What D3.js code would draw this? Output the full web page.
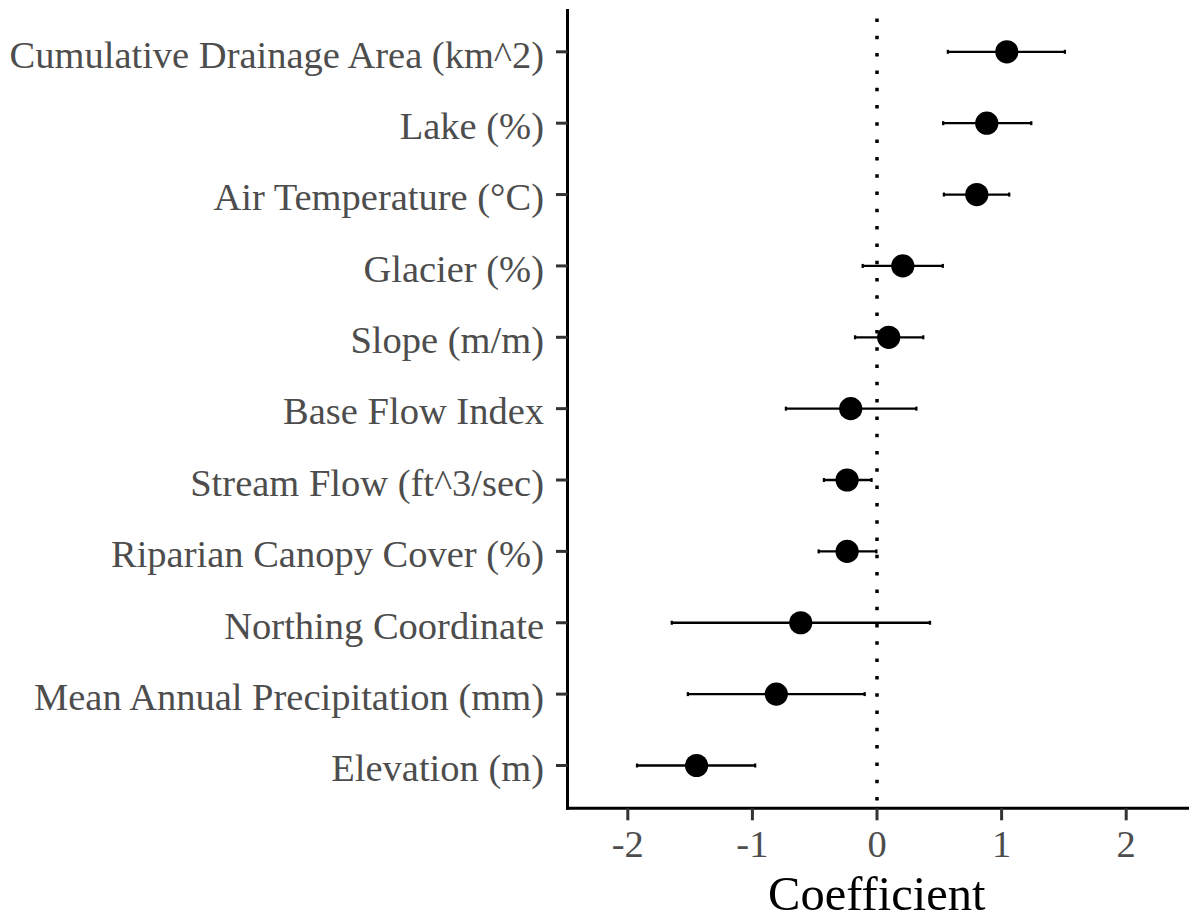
<!DOCTYPE html>
<html>
<head>
<meta charset="utf-8">
<script src="https://cdn.jsdelivr.net/npm/d3@7"></script>
<style>
  html, body { margin: 0; padding: 0; background: #ffffff; }
  svg { display: block; }
</style>
</head>
<body>
<svg id="chart" width="1189" height="920"></svg>
<script>
// Predictor names, top to bottom
const categories = [
  "Cumulative Drainage Area (km^2)",
  "Lake (%)",
  "Air Temperature (°C)",
  "Glacier (%)",
  "Slope (m/m)",
  "Base Flow Index",
  "Stream Flow (ft^3/sec)",
  "Riparian Canopy Cover (%)",
  "Northing Coordinate",
  "Mean Annual Precipitation (mm)",
  "Elevation (m)"
];
// Coefficient estimates and their interval bounds
const estimates = [1.042, 0.881, 0.801, 0.207, 0.094, -0.211, -0.240, -0.240, -0.612, -0.808, -1.448];
const lower     = [0.569, 0.531, 0.537, -0.115, -0.176, -0.731, -0.426, -0.468, -1.647, -1.518, -1.926];
const upper     = [1.508, 1.238, 1.061, 0.528, 0.371, 0.316, -0.044, -0.005, 0.425, -0.099, -0.978];
const xTicks = [-2, -1, 0, 1, 2];
const xTitle = "Coefficient";

const rows = categories.map((c, i) => ({ name: c, est: estimates[i], lo: lower[i], hi: upper[i] }));

const svg = d3.select("#chart");
const panel = { left: 567.5, right: 1189, top: 9, bottom: 808.3 };

const x = d3.scaleLinear().domain([-2.484, 2.504]).range([panel.left, panel.right]);
const y = d3.scalePoint().domain(categories).range([panel.top, panel.bottom]).padding(0.6);

const serif = "'Liberation Serif', 'Times New Roman', serif";

// Reference line at zero
svg.append("line")
  .attr("x1", x(0)).attr("x2", x(0))
  .attr("y1", panel.top).attr("y2", panel.bottom)
  .attr("stroke", "#000").attr("stroke-width", 3.5)
  .attr("stroke-dasharray", "3.5 13.8")
  .attr("stroke-dashoffset", 7.8);

// Interval bars with small end caps
const g = svg.append("g");
g.selectAll("line.bar").data(rows).join("line")
  .attr("class", "bar")
  .attr("x1", d => x(d.lo)).attr("x2", d => x(d.hi))
  .attr("y1", d => y(d.name)).attr("y2", d => y(d.name))
  .attr("stroke", "#000").attr("stroke-width", 2.3);
g.selectAll("line.capl").data(rows).join("line")
  .attr("class", "capl")
  .attr("x1", d => x(d.lo)).attr("x2", d => x(d.lo))
  .attr("y1", d => y(d.name) - 2).attr("y2", d => y(d.name) + 2)
  .attr("stroke", "#000").attr("stroke-width", 2.3);
g.selectAll("line.capr").data(rows).join("line")
  .attr("class", "capr")
  .attr("x1", d => x(d.hi)).attr("x2", d => x(d.hi))
  .attr("y1", d => y(d.name) - 2).attr("y2", d => y(d.name) + 2)
  .attr("stroke", "#000").attr("stroke-width", 2.3);

// Point estimates
g.selectAll("circle").data(rows).join("circle")
  .attr("cx", d => x(d.est)).attr("cy", d => y(d.name))
  .attr("r", 11.6).attr("fill", "#000");

// Y axis
const yAxis = svg.append("g");
yAxis.append("line")
  .attr("x1", panel.left).attr("x2", panel.left)
  .attr("y1", panel.top).attr("y2", panel.bottom + 1.5)
  .attr("stroke", "#000").attr("stroke-width", 3);
yAxis.selectAll("line.tick").data(categories).join("line")
  .attr("class", "tick")
  .attr("x1", panel.left - 11.5).attr("x2", panel.left)
  .attr("y1", d => y(d)).attr("y2", d => y(d))
  .attr("stroke", "#333333").attr("stroke-width", 3);
yAxis.selectAll("text").data(categories).join("text")
  .attr("x", 544).attr("y", d => y(d) + 15.8)
  .attr("text-anchor", "end")
  .attr("font-family", serif).attr("font-size", 38.5)
  .attr("fill", "#4d4d4d")
  .text(d => d);

// X axis
const xAxis = svg.append("g");
xAxis.append("line")
  .attr("x1", panel.left - 1.5).attr("x2", panel.right)
  .attr("y1", panel.bottom).attr("y2", panel.bottom)
  .attr("stroke", "#000").attr("stroke-width", 3);
xAxis.selectAll("line.tick").data(xTicks).join("line")
  .attr("class", "tick")
  .attr("x1", d => x(d)).attr("x2", d => x(d))
  .attr("y1", panel.bottom).attr("y2", panel.bottom + 12)
  .attr("stroke", "#333333").attr("stroke-width", 3);
xAxis.selectAll("text").data(xTicks).join("text")
  .attr("x", d => x(d)).attr("y", 857)
  .attr("text-anchor", "middle")
  .attr("font-family", serif).attr("font-size", 38.5)
  .attr("fill", "#4d4d4d")
  .text(d => String(d));

// Axis title
svg.append("text")
  .attr("x", (panel.left + panel.right) / 2 - 1.5).attr("y", 910)
  .attr("text-anchor", "middle")
  .attr("font-family", serif).attr("font-size", 48.5)
  .attr("fill", "#000")
  .text(xTitle);
</script>
</body>
</html>
